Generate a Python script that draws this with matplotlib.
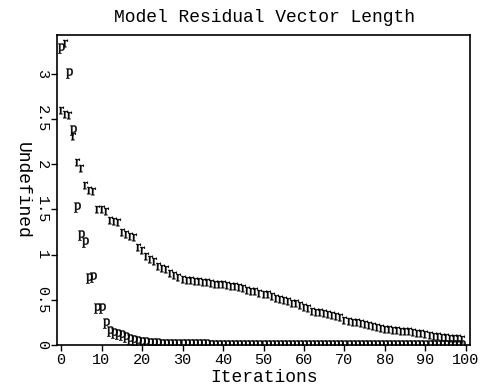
import matplotlib
matplotlib.use("Agg")
import matplotlib.pyplot as plt

# ---- data ----
title = "Model Residual Vector Length"
x_label = "Iterations"
y_label = "Undefined"
x_ticks = [0, 10, 20, 30, 40, 50, 60, 70, 80, 90, 100]
y_ticks = [0, 0.5, 1, 1.5, 2, 2.5, 3]
y_tick_labels = ["0", "0.5", "1", "1.5", "2", "2.5", "3"]

r_iters = list(range(100))
r_vals = [2.60, 2.56, 2.54, 2.31, 2.03, 1.96, 1.77, 1.72, 1.70, 1.51,
          1.50, 1.48, 1.38, 1.37, 1.36, 1.25, 1.23, 1.21, 1.19, 1.08,
          1.05, 0.98, 0.95, 0.93, 0.87, 0.85, 0.84, 0.80, 0.78, 0.75,
          0.73, 0.72, 0.72, 0.71, 0.71, 0.70, 0.70, 0.69, 0.68, 0.67,
          0.67, 0.66, 0.65, 0.65, 0.64, 0.63, 0.61, 0.60, 0.60, 0.58,
          0.56, 0.56, 0.54, 0.52, 0.51, 0.50, 0.49, 0.47, 0.46, 0.44,
          0.42, 0.41, 0.38, 0.37, 0.36, 0.35, 0.34, 0.33, 0.32, 0.31,
          0.28, 0.27, 0.26, 0.25, 0.24, 0.23, 0.22, 0.21, 0.20, 0.19,
          0.18, 0.18, 0.17, 0.17, 0.16, 0.15, 0.15, 0.14, 0.13, 0.13,
          0.12, 0.11, 0.10, 0.10, 0.09, 0.09, 0.08, 0.08, 0.08, 0.07]
r_extra_iters = [1]
r_extra_vals = [3.34]

p_iters = [0] + list(range(2, 100))
p_vals = [3.29, 3.01, 2.38, 1.53, 1.22, 1.14, 0.74, 0.75, 0.41, 0.41,
          0.24, 0.15, 0.13, 0.12, 0.11, 0.09, 0.07, 0.05, 0.04, 0.035,
          0.03, 0.025, 0.02, 0.02, 0.015, 0.012, 0.01, 0.01, 0.01, 0.01,
          0.008, 0.008, 0.007, 0.007, 0.006, 0.006, 0.005, 0.005, 0.005, 0.004,
          0.004, 0.004, 0.003, 0.003, 0.003, 0.003, 0.002, 0.002, 0.002, 0.002,
          0.002, 0.002, 0.001, 0.001, 0.001, 0.001, 0.001, 0.001, 0.001, 0.001,
          0.001, 0.001, 0.001, 0.0, 0.0, 0.0, 0.0, 0.0, 0.0, 0.0,
          0.0, 0.0, 0.0, 0.0, 0.0, 0.0, 0.0, 0.0, 0.0, 0.0,
          0.0, 0.0, 0.0, 0.0, 0.0, 0.0, 0.0, 0.0, 0.0, 0.0,
          0.0, 0.0, 0.0, 0.0, 0.0, 0.0, 0.0, 0.0, 0.0]

# ---- style ----
plt.rcParams["mathtext.fontset"] = "custom"
plt.rcParams["mathtext.rm"] = "Liberation Serif"
font = "Liberation Mono"

W, H = 482, 384
fig = plt.figure(figsize=(W / 100, H / 100), dpi=100)
ax = fig.add_axes([57 / W, 1 - 345 / H, (470 - 57) / W, (345 - 35) / H])

mk = dict(ls="none", color="black", mew=0.3, clip_on=True)
ax.plot(r_iters, r_vals, marker=r"$\mathrm{r}$", ms=5.3, **mk)
ax.plot(r_extra_iters, r_extra_vals, marker=r"$\mathrm{r}$", ms=5.3, **mk)
ax.plot(p_iters, p_vals, marker=r"$\mathrm{p}$", ms=7.2, **mk)

ax.set_xlim(-1, 101)
ax.set_ylim(0, 3.43)
ax.set_xticks(x_ticks)
ax.set_xticklabels([str(t) for t in x_ticks], family=font, fontsize=11)
ax.set_yticks(y_ticks)
ax.set_yticklabels(y_tick_labels, family=font, fontsize=11, rotation=-90,
                   va="center")
ax.tick_params(direction="out", length=4, width=1, pad=2, color="black")
for s in ax.spines.values():
    s.set_linewidth(1.2)
    s.set_color("black")

fig.text(264 / W, 1 - 18 / H, title, family=font, fontsize=13,
         ha="center", va="center")
fig.text(264 / W, 1 - 377 / H, x_label, family=font, fontsize=13,
         ha="center", va="center")
fig.text(22 / W, 1 - 190 / H, y_label, family=font, fontsize=13,
         rotation=270, ha="center", va="center")

fig.savefig("out.png", dpi=100)
